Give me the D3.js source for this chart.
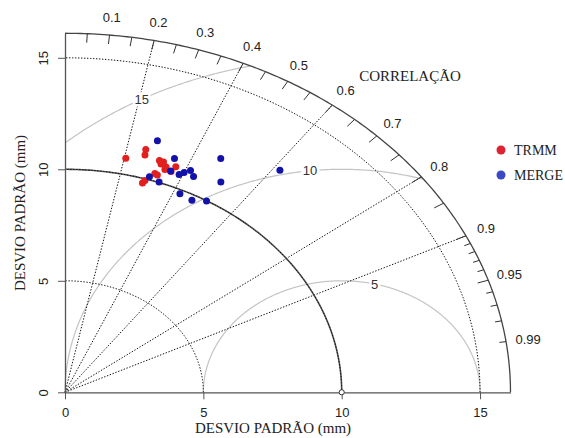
<!DOCTYPE html>
<html>
<head>
<meta charset="utf-8">
<script src="https://cdn.jsdelivr.net/npm/d3@7"></script>
<style>
  body { margin: 0; background: #fff; }
  svg { display: block; }
</style>
</head>
<body>
<div id="chart"></div>
<script>
// standard deviation axis ticks and grid
const sdTicks = [0, 5, 10, 15];
const sdArcs = [5, 10, 15];
const refSD = 10;
const maxSD = 16.1;

// correlation scale
const corLabels = [0.1, 0.2, 0.3, 0.4, 0.5, 0.6, 0.7, 0.8, 0.9, 0.95, 0.99];
const corLines = [0.2, 0.4, 0.6, 0.8, 0.9];
const corTicks = [0.05, 0.1, 0.15, 0.2, 0.25, 0.3, 0.35, 0.4, 0.45, 0.5, 0.55, 0.6,
  0.65, 0.7, 0.75, 0.8, 0.85, 0.9, 0.91, 0.92, 0.93, 0.94, 0.95, 0.96, 0.97, 0.98, 0.99];

// centred RMS difference contours
const rmsLevels = [5, 10, 15];

// series (standard deviation in mm, correlation)
const seriesNames = ['TRMM', 'MERGE'];
const trmmSD = [10.72, 11.27, 11.03, 10.94, 10.92, 10.81, 10.74, 10.88, 10.62, 10.62, 10.34, 10.30, 9.93, 9.79];
const trmmCor = [0.205, 0.259, 0.262, 0.312, 0.326, 0.321, 0.340, 0.368, 0.361, 0.340, 0.314, 0.324, 0.291, 0.286];
const mergeSD = [11.76, 11.21, 10.63, 10.60, 10.76, 10.93, 10.73, 10.14, 10.03, 9.82, 9.76, 9.99, 11.90, 10.98, 12.63];
const mergeCor = [0.284, 0.353, 0.359, 0.389, 0.400, 0.415, 0.433, 0.301, 0.339, 0.423, 0.470, 0.512, 0.473, 0.513, 0.615];

const width = 565, height = 438;
const ox = 65, oy = 392.3;
const kx = 27.67, ky = 22.3;

const svg = d3.select('#chart').append('svg')
  .attr('width', width)
  .attr('height', height);

const x = d3.scaleLinear().domain([0, maxSD]).range([ox, ox + maxSD * kx]);
const y = d3.scaleLinear().domain([0, maxSD]).range([oy, oy - maxSD * ky]);

const line = d3.line().x(d => x(d[0])).y(d => y(d[1]));
const polar = (r, a) => [r * Math.cos(a), r * Math.sin(a)];
const arcPts = r => d3.range(0, 181).map(i => polar(r, (i / 180) * Math.PI / 2));
const dotted = '1.4,1.6';

// RMS contours (grey), clipped to the quarter circle
const rmsG = svg.append('g');
rmsLevels.forEach(r => {
  const pts = d3.range(0, 721).map(i => {
    const a = (i / 720) * Math.PI;
    return [refSD + r * Math.cos(a), r * Math.sin(a)];
  }).filter(p => p[0] >= 0 && Math.hypot(p[0], p[1]) <= maxSD);
  rmsG.append('path')
    .attr('d', line(pts))
    .attr('fill', 'none')
    .attr('stroke', '#c4c4c4')
    .attr('stroke-width', 1.2);
});

// dotted correlation rays
svg.append('g').selectAll('line')
  .data(corLines)
  .enter().append('line')
  .attr('x1', x(0)).attr('y1', y(0))
  .attr('x2', d => x(maxSD * d))
  .attr('y2', d => y(maxSD * Math.sqrt(1 - d * d)))
  .attr('stroke', '#111')
  .attr('stroke-width', 1)
  .attr('stroke-dasharray', dotted);

// sd arcs
svg.append('path')
  .attr('d', line(arcPts(refSD)))
  .attr('fill', 'none')
  .attr('stroke', '#555')
  .attr('stroke-width', 1.6);
svg.append('g').selectAll('path')
  .data(sdArcs)
  .enter().append('path')
  .attr('d', d => line(arcPts(d)))
  .attr('fill', 'none')
  .attr('stroke', '#111')
  .attr('stroke-width', 1)
  .attr('stroke-dasharray', dotted);

// outer arc and correlation ticks
svg.append('path')
  .attr('d', line(arcPts(maxSD)))
  .attr('fill', 'none')
  .attr('stroke', '#444')
  .attr('stroke-width', 1.3);

const tickIn = d => (d > 0.9 && d !== 0.95 ? 0.985 : 0.975);
svg.append('g').selectAll('line')
  .data(corTicks)
  .enter().append('line')
  .attr('x1', d => x(maxSD * d))
  .attr('y1', d => y(maxSD * Math.sqrt(1 - d * d)))
  .attr('x2', d => x(maxSD * tickIn(d) * d))
  .attr('y2', d => y(maxSD * tickIn(d) * Math.sqrt(1 - d * d)))
  .attr('stroke', '#333')
  .attr('stroke-width', 1);

svg.append('g').selectAll('text')
  .data(corLabels)
  .enter().append('text')
  .attr('x', d => x(maxSD * 1.05 * d))
  .attr('y', d => y(maxSD * 1.05 * Math.sqrt(1 - d * d)))
  .attr('dy', '0.35em')
  .attr('text-anchor', 'middle')
  .style('font-family', '"Liberation Sans", Arial, sans-serif')
  .style('font-size', '13px')
  .attr('fill', '#222')
  .text(d => d);

svg.append('text')
  .attr('x', 410).attr('y', 76)
  .attr('dy', '0.35em')
  .attr('text-anchor', 'middle')
  .style('font-family', '"Liberation Serif", "Times New Roman", serif')
  .style('font-size', '15px')
  .attr('fill', '#222')
  .text('CORRELAÇÃO');

// RMS labels
const rmsLabelAngle = { 5: 76.2, 10: 96.6, 15: 118.8 };
svg.append('g').selectAll('text')
  .data(rmsLevels)
  .enter().append('text')
  .attr('x', d => x(refSD + d * Math.cos(rmsLabelAngle[d] * Math.PI / 180)))
  .attr('y', d => y(d * Math.sin(rmsLabelAngle[d] * Math.PI / 180)))
  .attr('dy', '0.35em')
  .attr('text-anchor', 'middle')
  .style('font-family', '"Liberation Sans", Arial, sans-serif')
  .style('font-size', '13px')
  .attr('fill', '#333')
  .attr('stroke', '#fff')
  .attr('stroke-width', 5)
  .attr('paint-order', 'stroke')
  .text(d => d);

// axes
const xAxis = svg.append('g')
  .attr('transform', `translate(0,${oy})`)
  .call(d3.axisBottom(x).tickValues(sdTicks).tickSize(7).tickSizeOuter(0).tickPadding(8));
const yAxis = svg.append('g')
  .attr('transform', `translate(${ox},0)`)
  .call(d3.axisLeft(y).tickValues(sdTicks).tickSize(7).tickSizeOuter(0));

[xAxis, yAxis].forEach(g => {
  g.select('.domain').attr('stroke', '#555').attr('stroke-width', 1.3);
  g.selectAll('.tick line').attr('stroke', '#555');
  g.selectAll('.tick text')
    .attr('fill', '#222')
    .style('font-family', '"Liberation Sans", Arial, sans-serif')
    .style('font-size', '13px');
});
yAxis.selectAll('.tick text')
  .attr('transform', 'rotate(-90)')
  .attr('x', 0).attr('y', -17.5).attr('dy', 0)
  .attr('text-anchor', 'middle');

// reference point
svg.append('circle')
  .attr('cx', x(refSD)).attr('cy', y(0)).attr('r', 2.6)
  .attr('fill', '#fff').attr('stroke', '#333').attr('stroke-width', 1);

// axis titles
svg.append('text')
  .attr('x', 273).attr('y', 433)
  .attr('text-anchor', 'middle')
  .style('font-family', '"Liberation Serif", "Times New Roman", serif')
  .style('font-size', '15px')
  .attr('fill', '#222')
  .text('DESVIO PADRÃO (mm)');
svg.append('text')
  .attr('transform', 'translate(25,213) rotate(-90)')
  .attr('text-anchor', 'middle')
  .style('font-family', '"Liberation Serif", "Times New Roman", serif')
  .style('font-size', '15px')
  .attr('fill', '#222')
  .text('DESVIO PADRÃO (mm)');

// points
const series = [
  { sd: trmmSD, cor: trmmCor, color: '#e21f1f' },
  { sd: mergeSD, cor: mergeCor, color: '#1212aa' }
];
series.forEach(s => {
  svg.append('g').selectAll('circle')
    .data(s.sd.map((v, i) => polar(v, Math.acos(s.cor[i]))))
    .enter().append('circle')
    .attr('cx', d => x(d[0]))
    .attr('cy', d => y(d[1]))
    .attr('r', 3.5)
    .attr('fill', s.color);
});

// legend
const legendColors = ['#dd2233', '#3a48c4'];
const legend = svg.append('g').selectAll('g')
  .data(seriesNames)
  .enter().append('g')
  .attr('transform', (d, i) => `translate(501,${150 + i * 25})`);
legend.append('circle').attr('r', 4.5).attr('fill', (d, i) => legendColors[i]);
legend.append('text')
  .attr('x', 13).attr('dy', '0.35em')
  .style('font-family', '"Liberation Serif", "Times New Roman", serif')
  .style('font-size', '14px')
  .attr('fill', '#222')
  .text(d => d);
</script>
</body>
</html>
